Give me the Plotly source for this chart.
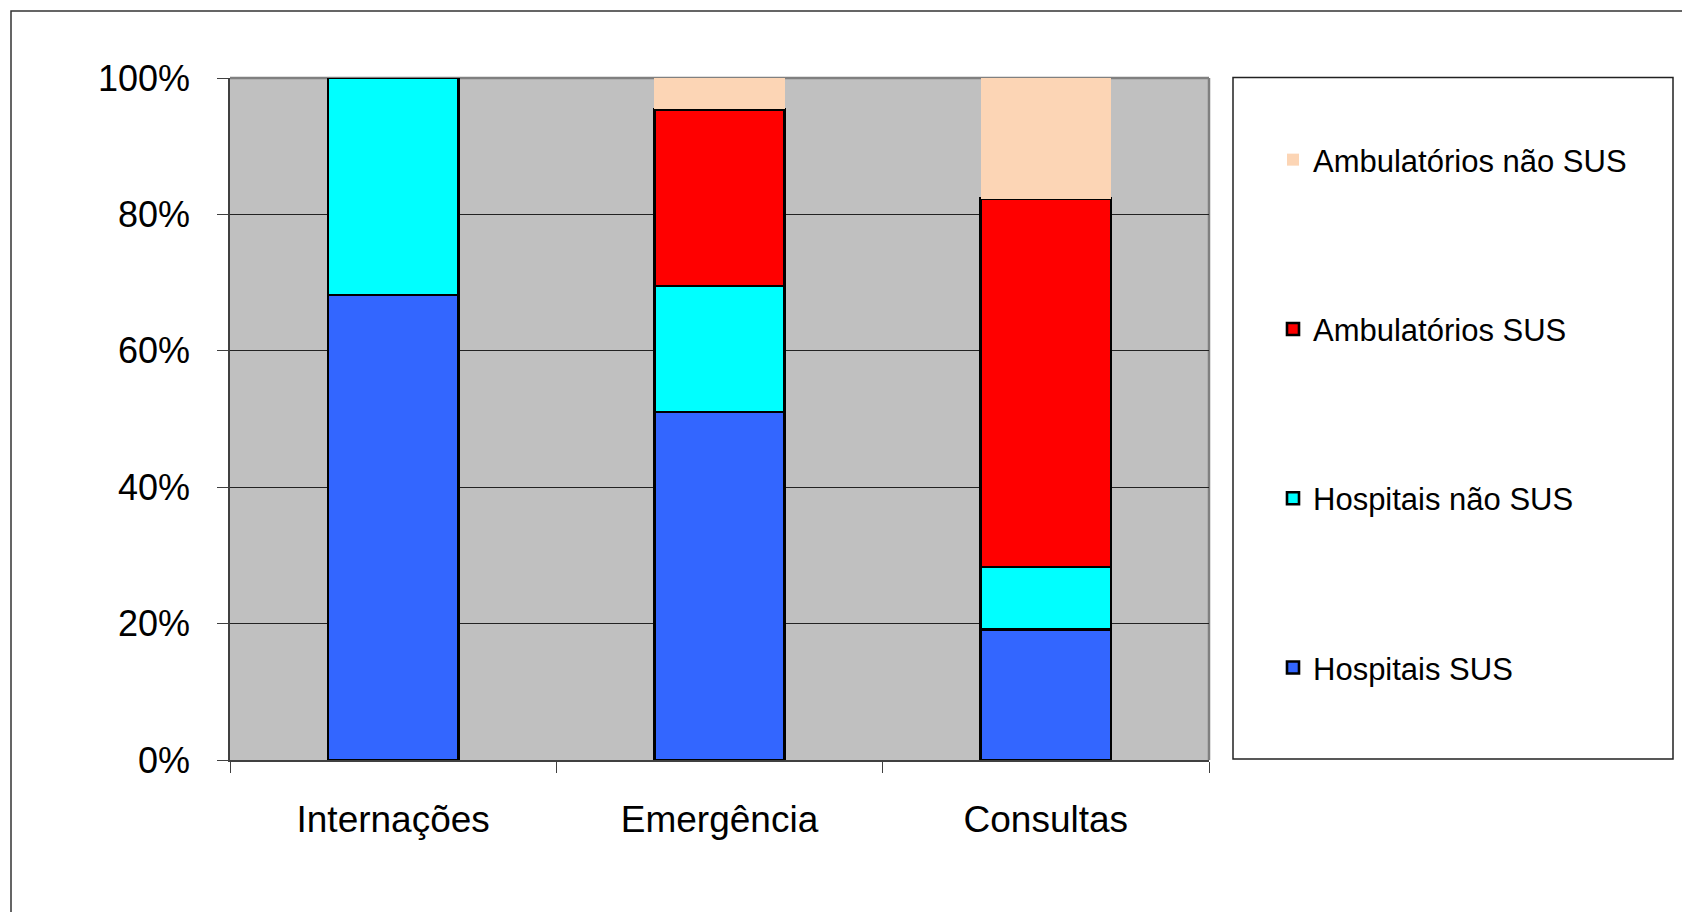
import plotly.graph_objects as go

categories = ["Internações", "Emergência", "Consultas"]
series_names = ["Hospitais SUS", "Hospitais não SUS", "Ambulatórios SUS", "Ambulatórios não SUS"]
hospitais_sus = [0.682, 0.510, 0.191]
hospitais_nao_sus = [0.318, 0.185, 0.092]
ambulatorios_sus = [0.0, 0.259, 0.540]
ambulatorios_nao_sus = [0.0, 0.046, 0.177]
colors = ["#3366FF", "#00FFFF", "#FF0000", "#FCD5B5"]
outline = ["black", "black", "black", "rgba(0,0,0,0)"]
legend_ranks = [4, 3, 2, 1]

FONT = "Liberation Sans, Arial, sans-serif"

W, H = 1690, 912
OFF = 8  # page body margin offset in screenshot
L, R, T, B = 222, 489, 70, 160
pw = W - L - R
ph = H - T - B

def px_x(xs):
    return (xs - OFF - L) / pw

def px_y(ys):
    return (H - B - (ys - OFF)) / ph

fig = go.Figure()
for i, (name, vals) in enumerate(zip(series_names, [hospitais_sus, hospitais_nao_sus, ambulatorios_sus, ambulatorios_nao_sus])):
    fig.add_trace(go.Bar(
        x=categories, y=vals, name=name,
        marker=dict(color=colors[i], line=dict(color=outline[i], width=2.6)),
        legendgroup=name, legendrank=legend_ranks[i],
    ))

# outer frame
fig.add_shape(type="rect", xref="paper", yref="paper",
              x0=px_x(11), x1=px_x(1730), y0=px_y(11), y1=px_y(950),
              line=dict(color="#333333", width=1.5), fillcolor="rgba(0,0,0,0)", layer="below")
# legend box
fig.add_shape(type="rect", xref="paper", yref="paper",
              x0=px_x(1233), x1=px_x(1673), y0=px_y(77.6), y1=px_y(759),
              line=dict(color="#222222", width=1.5), fillcolor="white", layer="below")
# plot area top / right border
fig.add_shape(type="line", xref="paper", yref="paper", x0=0, x1=1, y0=1, y1=1,
              line=dict(color="#808080", width=2.5), layer="below")
fig.add_shape(type="line", xref="paper", yref="paper", x0=1, x1=1, y0=0, y1=1,
              line=dict(color="#808080", width=2.5), layer="below")

fig.update_layout(
    width=W, height=H,
    margin=dict(l=L, r=R, t=T, b=B, autoexpand=False),
    barmode="stack", bargap=0.6,
    plot_bgcolor="#C0C0C0", paper_bgcolor="white",
    font=dict(family=FONT, color="black"),
    showlegend=True,
    legend=dict(
        x=px_x(1273), y=px_y(133), xanchor="left", yanchor="top",
        traceorder="grouped", tracegroupgap=126,
        font=dict(size=31, family=FONT), bgcolor="rgba(0,0,0,0)",
    ),
)
fig.update_xaxes(
    showline=True, linecolor="#404040", linewidth=1.5,
    ticks="outside", tickson="boundaries", ticklen=11, tickcolor="#404040",
    tickfont=dict(size=37, family=FONT), ticklabelstandoff=26,
    showgrid=False,
)
fig.update_yaxes(
    range=[0, 1], dtick=0.2, tickformat=".0%",
    showline=True, linecolor="#404040", linewidth=1.5,
    ticks="outside", ticklen=11, tickcolor="#404040",
    showgrid=True, gridcolor="#222222", gridwidth=1,
    tickfont=dict(size=36, family=FONT), ticklabelstandoff=20,
    zeroline=False,
)

fig.write_html("out.html")
